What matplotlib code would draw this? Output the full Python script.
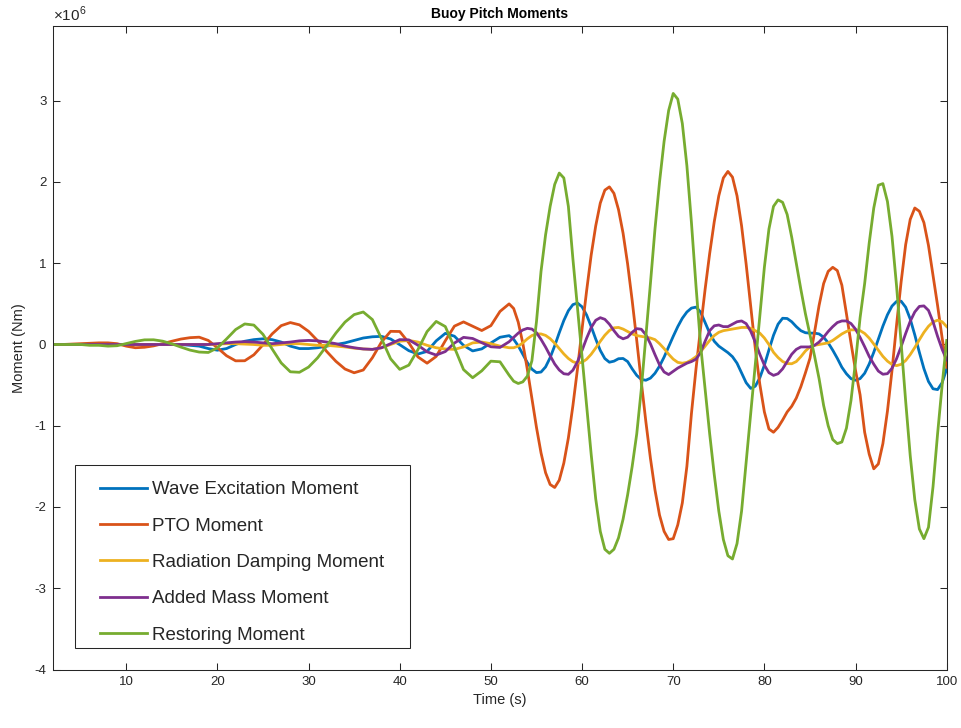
import numpy as np
import matplotlib
matplotlib.use("Agg")
import matplotlib.pyplot as plt
from matplotlib.patches import Rectangle

plt.rcParams['font.family'] = ['Liberation Sans', 'DejaVu Sans']
plt.rcParams['mathtext.fontset'] = 'custom'
plt.rcParams['mathtext.rm'] = 'Liberation Sans'
plt.rcParams['axes.unicode_minus'] = False

# time samples: 1 s steps up to 52 s, then 0.5 s steps
time_s = np.concatenate([np.arange(2, 53, 1.0), np.arange(52.5, 100.01, 0.5)])

# moments in units of 1e6 Nm
wave_excitation = [
    0, 0, 0, 0, 0, 0, 0, 0, 0, 0,
    0, 0, 0, 0, 0, -0.01, -0.02, -0.05, -0.07, -0.05,
    0.0, 0.04, 0.06, 0.07, 0.06, 0.03, -0.02, -0.05, -0.05, -0.04,
    -0.02, 0.0, 0.02, 0.05, 0.08, 0.095, 0.10, 0.068, -0.002, -0.076,
    -0.117, -0.085, 0.045, 0.137, 0.102, -0.011, -0.079, -0.054, 0.019, 0.089,
    0.109,
    0.064, -0.017, -0.12, -0.223, -0.304, -0.346, -0.339, -0.276, -0.162, -0.016,
    0.145, 0.295, 0.416, 0.491, 0.51, 0.464, 0.363, 0.222, 0.067, -0.073,
    -0.173, -0.218, -0.205, -0.175, -0.172, -0.21, -0.30, -0.38, -0.43, -0.44,
    -0.414, -0.354, -0.266, -0.155, -0.028, 0.10, 0.22, 0.323, 0.40, 0.448,
    0.46, 0.40, 0.27, 0.14, 0.04, -0.02, -0.06, -0.10, -0.15, -0.23,
    -0.35, -0.47, -0.54, -0.514, -0.41, -0.254, -0.067, 0.113, 0.25, 0.323,
    0.32, 0.28, 0.22, 0.17, 0.145, 0.14, 0.14, 0.13, 0.09, 0.02,
    -0.07, -0.17, -0.28, -0.36, -0.42, -0.44, -0.42, -0.354, -0.24, -0.096,
    0.067, 0.226, 0.366, 0.473, 0.53, 0.533, 0.459, 0.313, 0.118, -0.096,
    -0.297, -0.455, -0.545, -0.555, -0.47, -0.30,
]

pto = [
    0, 0, 0.005, 0.01, 0.015, 0.02, 0.02, 0.01, -0.02, -0.04,
    -0.034, -0.017, 0.01, 0.04, 0.067, 0.084, 0.09, 0.05, -0.04, -0.138,
    -0.201, -0.20, -0.127, -0.004, 0.13, 0.232, 0.27, 0.242, 0.162, 0.046,
    -0.087, -0.207, -0.302, -0.348, -0.314, -0.163, 0.03, 0.162, 0.16, 0.021,
    -0.153, -0.23, -0.147, 0.046, 0.226, 0.278, 0.225, 0.172, 0.232, 0.407,
    0.5,
    0.443, 0.275, 0.017, -0.308, -0.665, -1.02, -1.334, -1.578, -1.723, -1.76,
    -1.67, -1.46, -1.15, -0.75, -0.30, 0.19, 0.66, 1.10, 1.46, 1.74,
    1.90, 1.94, 1.86, 1.66, 1.37, 0.99, 0.54, 0.05, -0.46, -0.95,
    -1.40, -1.79, -2.10, -2.30, -2.40, -2.39, -2.22, -1.95, -1.50, -0.85,
    -0.30, 0.20, 0.68, 1.12, 1.51, 1.83, 2.05, 2.13, 2.06, 1.83,
    1.46, 0.99, 0.475, -0.045, -0.49, -0.83, -1.04, -1.08, -1.02, -0.93,
    -0.83, -0.76, -0.66, -0.52, -0.35, -0.17, 0.15, 0.48, 0.75, 0.90,
    0.95, 0.91, 0.73, 0.38, 0.02, -0.32, -0.62, -1.08, -1.35, -1.53,
    -1.47, -1.22, -0.82, -0.32, 0.24, 0.77, 1.23, 1.54, 1.68, 1.64,
    1.50, 1.22, 0.85, 0.48, 0.08, -0.28,
]

radiation_damping = [
    0, 0, 0, 0, 0, 0, 0, 0, 0, 0,
    0, 0, 0, 0, 0, 0, 0, 0, 0.005, 0.01,
    0.01, 0.005, 0, -0.01, -0.01, 0, 0.01, 0.01, 0.0, -0.01,
    -0.01, -0.02, -0.03, -0.045, -0.055, -0.06, -0.04, 0.0, 0.04, 0.05,
    0.03, -0.01, -0.04, -0.055, -0.06, -0.03, 0.02, 0.03, 0.01, -0.02,
    -0.04,
    -0.04, -0.02, 0.02, 0.07, 0.11, 0.13, 0.13, 0.112, 0.072, 0.016,
    -0.05, -0.116, -0.172, -0.212, -0.229, -0.22, -0.181, -0.12, -0.043, 0.039,
    0.114, 0.172, 0.205, 0.21, 0.19, 0.16, 0.13, 0.11, 0.10, 0.09,
    0.08, 0.06, 0.01, -0.05, -0.12, -0.18, -0.22, -0.23, -0.22, -0.19,
    -0.15, -0.09, -0.02, 0.05, 0.11, 0.15, 0.17, 0.18, 0.19, 0.20,
    0.21, 0.21, 0.20, 0.17, 0.14, 0.08, 0.0, -0.096, -0.16, -0.209,
    -0.235, -0.237, -0.21, -0.15, -0.08, -0.03, -0.01, 0.0, 0.01, 0.02,
    0.05, 0.09, 0.13, 0.16, 0.18, 0.18, 0.171, 0.136, 0.079, 0.006,
    -0.071, -0.146, -0.205, -0.246, -0.26, -0.244, -0.197, -0.124, -0.037, 0.058,
    0.149, 0.224, 0.277, 0.299, 0.28, 0.22,
]

added_mass = [
    0, 0, 0, 0, 0, 0, 0, 0, 0, 0,
    0, 0, 0, 0, 0, 0, 0, 0, 0.01, 0.02,
    0.03, 0.035, 0.03, 0.02, 0.01, 0.02, 0.03, 0.045, 0.05, 0.045,
    0.03, 0.01, -0.02, -0.04, -0.055, -0.06, -0.04, 0.01, 0.06, 0.057,
    -0.009, -0.09, -0.13, -0.087, 0.018, 0.088, 0.074, 0.022, -0.028, -0.036,
    0.034,
    0.088, 0.14, 0.179, 0.199, 0.19, 0.145, 0.063, -0.032, -0.138, -0.24,
    -0.314, -0.36, -0.367, -0.316, -0.212, -0.073, 0.077, 0.208, 0.298, 0.33,
    0.31, 0.25, 0.17, 0.10, 0.07, 0.09, 0.15, 0.195, 0.188, 0.12,
    0.009, -0.125, -0.251, -0.338, -0.37, -0.33, -0.29, -0.26, -0.23, -0.21,
    -0.18, -0.10, 0.04, 0.17, 0.23, 0.24, 0.22, 0.22, 0.25, 0.28,
    0.29, 0.257, 0.164, 0.03, -0.12, -0.254, -0.347, -0.38, -0.36, -0.30,
    -0.21, -0.12, -0.06, -0.03, -0.03, -0.03, -0.01, 0.03, 0.09, 0.16,
    0.22, 0.27, 0.29, 0.29, 0.258, 0.189, 0.087, -0.027, -0.147, -0.242,
    -0.327, -0.366, -0.359, -0.293, -0.175, -0.026, 0.136, 0.286, 0.401, 0.469,
    0.475, 0.42, 0.28, 0.10, -0.06, -0.19,
]

restoring = [
    0, 0, 0, 0, -0.01, -0.01, -0.02, -0.015, 0.012, 0.038,
    0.057, 0.058, 0.041, 0.008, -0.032, -0.069, -0.093, -0.098, -0.042, 0.068,
    0.184, 0.253, 0.239, 0.125, -0.054, -0.227, -0.336, -0.342, -0.278, -0.163,
    -0.014, 0.141, 0.276, 0.368, 0.40, 0.307, 0.072, -0.176, -0.306, -0.254,
    -0.062, 0.159, 0.284, 0.221, -0.037, -0.309, -0.409, -0.324, -0.205, -0.213,
    -0.378,
    -0.452, -0.48, -0.46, -0.39, -0.20, 0.28, 0.90, 1.35, 1.70, 1.97,
    2.11, 2.05, 1.70, 1.05, 0.45, -0.15, -0.75, -1.35, -1.90, -2.30,
    -2.52, -2.57, -2.52, -2.38, -2.15, -1.85, -1.50, -1.10, -0.55, 0.10,
    0.75, 1.42, 2.00, 2.50, 2.88, 3.09, 3.02, 2.72, 2.20, 1.50,
    0.72, 0.0, -0.55, -1.10, -1.60, -2.05, -2.40, -2.60, -2.64, -2.45,
    -2.05, -1.45, -0.85, -0.25, 0.35, 0.95, 1.42, 1.70, 1.78, 1.75,
    1.60, 1.32, 1.00, 0.68, 0.38, 0.12, -0.14, -0.42, -0.75, -1.00,
    -1.17, -1.22, -1.20, -1.03, -0.69, -0.21, 0.33, 0.75, 1.25, 1.68,
    1.96, 1.98, 1.76, 1.33, 0.72, 0.02, -0.70, -1.37, -1.91, -2.27,
    -2.39, -2.25, -1.75, -1.10, -0.50, 0.05,
]

labels = ['Wave Excitation Moment', 'PTO Moment', 'Radiation Damping Moment',
          'Added Mass Moment', 'Restoring Moment']
colors = ['#0072BD', '#D95319', '#EDB120', '#7E2F8E', '#77AC30']
series = [wave_excitation, pto, radiation_damping, added_mass, restoring]

axcol = '#262626'

fig = plt.figure(figsize=(9.62, 7.28), dpi=100)
ax = fig.add_axes([53.3 / 962, 1 - 669.5 / 728, 893.4 / 962, 643.5 / 728])

lines = []
for vals, col, lab in zip(series, colors, labels):
    ln, = ax.plot(time_s, vals, color=col, lw=2.0, label=lab,
                  solid_joinstyle='round')
    lines.append(ln)

ax.set_xlim(2, 100)
ax.set_ylim(-4, 3.92)
ax.set_xticks(np.arange(10, 101, 10))
ax.set_yticks(np.arange(-4, 4, 1))
ax.tick_params(direction='in', length=5, width=0.75, colors=axcol,
               labelsize=9.5, top=True, right=True, pad=5)
for sp in ax.spines.values():
    sp.set_color(axcol)
    sp.set_linewidth(0.75)

ax.set_title('Buoy Pitch Moments', fontsize=10, fontweight='bold',
             color='black', pad=6)
ax.set_xlabel('Time (s)', fontsize=10.5, color=axcol, labelpad=3)
ax.set_ylabel('Moment (Nm)', fontsize=10.5, color=axcol, labelpad=6)
ax.text(0.0, 1.003, r'$\times10^{6}$', transform=ax.transAxes,
        ha='left', va='bottom', fontsize=11, color=axcol)

# legend box drawn separately so its size matches the original
fig.patches.append(Rectangle((75 / 962, 1 - 648.3 / 728), 335 / 962, 183.3 / 728,
                             transform=fig.transFigure, facecolor='white',
                             edgecolor=axcol, lw=0.75, zorder=4))
leg = fig.legend(lines, labels, loc='upper left',
                 bbox_to_anchor=(100 / 962, 1 - 481 / 728),
                 frameon=False, borderpad=0, borderaxespad=0,
                 fontsize=13.5, handlelength=2.5, handletextpad=0.25,
                 labelspacing=1.03)
leg.set_zorder(5)
for t in leg.get_texts():
    t.set_color(axcol)

fig.savefig('out.png', dpi=100)
